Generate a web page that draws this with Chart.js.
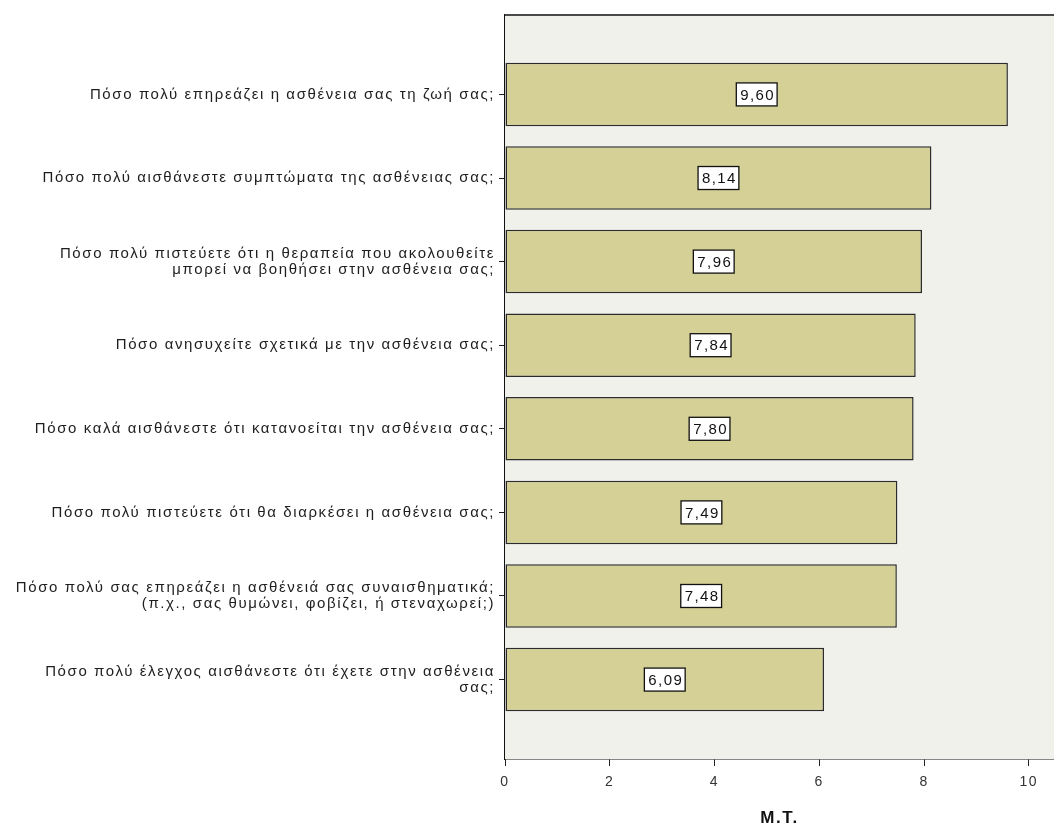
<!DOCTYPE html>
<html lang="el">
<head>
<meta charset="utf-8">
<title>Μέσοι όροι ερωτήσεων</title>
<script src="https://cdn.jsdelivr.net/npm/chart.js@4/dist/chart.umd.min.js"></script>
<style>
  html, body { margin: 0; padding: 0; background: #ffffff; }
  #wrap { width: 1054px; height: 837px; }
  canvas { display: block; }
</style>
</head>
<body>
<div id="wrap"><canvas id="chart" width="1054" height="837"></canvas></div>
<script>
// Questions (top to bottom), multi-line labels as arrays of lines
const questions = [
  "Πόσο πολύ επηρεάζει η ασθένεια σας τη ζωή σας;",
  "Πόσο πολύ αισθάνεστε συμπτώματα της ασθένειας σας;",
  ["Πόσο πολύ πιστεύετε ότι η θεραπεία που ακολουθείτε", "μπορεί να βοηθήσει στην ασθένεια σας;"],
  "Πόσο ανησυχείτε σχετικά με την ασθένεια σας;",
  "Πόσο καλά αισθάνεστε ότι κατανοείται την ασθένεια σας;",
  "Πόσο πολύ πιστεύετε ότι θα διαρκέσει η ασθένεια σας;",
  ["Πόσο πολύ σας επηρεάζει η ασθένειά σας συναισθηματικά;", "(π.χ., σας θυμώνει, φοβίζει, ή στεναχωρεί;)"],
  ["Πόσο πολύ έλεγχος αισθάνεστε ότι έχετε στην ασθένεια", "σας;"]
];

// Mean score per question
const means = [9.60, 8.14, 7.96, 7.84, 7.80, 7.49, 7.48, 6.09];

// Value-axis tick values
const xTicks = [0, 2, 4, 6, 8, 10];

const axisTitle = "M.T.";

const FONT = "'Liberation Sans', Arial, sans-serif";
const SPACING = "1.6px";

// Formats a mean with a decimal comma
const fmt = v => v.toFixed(2).replace('.', ',');

// Wide lettering for all canvas text
const spacingPlugin = {
  id: 'letterSpacing',
  beforeUpdate(chart) { chart.ctx.letterSpacing = SPACING; },
  beforeDraw(chart) { chart.ctx.letterSpacing = SPACING; }
};

// Plot panel fill and its top frame line
const panelPlugin = {
  id: 'panel',
  beforeDatasetsDraw(chart) {
    const { ctx, chartArea: a } = chart;
    ctx.save();
    ctx.fillStyle = '#f1f1ec';
    ctx.fillRect(a.left, a.top, a.right - a.left, a.bottom - a.top);
    ctx.strokeStyle = '#4a4a4a';
    ctx.lineWidth = 2;
    ctx.beginPath();
    ctx.moveTo(a.left, a.top);
    ctx.lineTo(a.right, a.top);
    ctx.stroke();
    ctx.restore();
  }
};

// Boxed value labels centred on each bar
const valueBoxPlugin = {
  id: 'valueBoxes',
  afterDatasetsDraw(chart) {
    const { ctx } = chart;
    const meta = chart.getDatasetMeta(0);
    ctx.save();
    ctx.letterSpacing = '1.4px';
    ctx.font = `15px ${FONT}`;
    ctx.textAlign = 'center';
    ctx.textBaseline = 'middle';
    meta.data.forEach((bar, i) => {
      const txt = fmt(means[i]);
      const cx = (bar.x + bar.base) / 2;
      const cy = bar.y;
      const w = ctx.measureText(txt).width + 6;
      const h = 23;
      ctx.fillStyle = '#ffffff';
      ctx.fillRect(cx - w / 2, cy - h / 2, w, h);
      ctx.strokeStyle = '#111111';
      ctx.lineWidth = 1.3;
      ctx.strokeRect(cx - w / 2, cy - h / 2, w, h);
      ctx.fillStyle = '#111111';
      ctx.fillText(txt, cx + 1, cy + 1);
    });
    ctx.restore();
  }
};

new Chart(document.getElementById('chart'), {
  type: 'bar',
  data: {
    datasets: [{
      data: means.map((v, i) => ({ x: v, y: i })),
      backgroundColor: '#d5d096',
      borderColor: '#2b2b2b',
      borderWidth: 1.5,
      borderSkipped: false,
      barPercentage: 0.76,
      categoryPercentage: 1
    }]
  },
  options: {
    indexAxis: 'y',
    responsive: false,
    animation: false,
    layout: { padding: { top: 15, right: 0, left: 0, bottom: 0 } },
    plugins: {
      legend: { display: false },
      tooltip: { enabled: false }
    },
    scales: {
      x: {
        type: 'linear',
        min: 0,
        max: 10.48,
        afterBuildTicks: s => { s.ticks = xTicks.map(v => ({ value: v })); },
        afterFit: s => { s.height = 78; s.paddingLeft = 0; s.paddingRight = 0; },
        grid: {
          drawOnChartArea: false,
          drawTicks: true,
          tickLength: 7,
          tickColor: '#222',
          tickWidth: 1
        },
        border: { display: true, color: '#111', width: 1.5 },
        ticks: {
          padding: 8,
          color: '#333',
          font: { family: FONT, size: 14 },
          callback: v => String(v)
        },
        title: {
          display: true,
          text: axisTitle,
          color: '#111',
          font: { family: FONT, size: 17, weight: 'bold' },
          padding: { top: 0, bottom: 8 }
        }
      },
      y: {
        type: 'linear',
        reverse: true,
        offset: false,
        min: -0.95,
        max: 7.95,
        afterBuildTicks: s => { s.ticks = questions.map((q, i) => ({ value: i })); },
        afterFit: s => { s.width = 505; s.paddingTop = 0; s.paddingBottom = 0; },
        grid: {
          offset: false,
          drawOnChartArea: false,
          drawTicks: true,
          tickLength: 6,
          tickColor: '#222',
          tickWidth: 1
        },
        border: { display: true, color: '#111', width: 1.5 },
        ticks: {
          autoSkip: false,
          padding: 4,
          color: '#1e1e1e',
          font: { family: FONT, size: 15, lineHeight: 1.05 },
          callback: v => questions[v]
        }
      }
    }
  },
  plugins: [spacingPlugin, panelPlugin, valueBoxPlugin]
});
</script>
</body>
</html>
